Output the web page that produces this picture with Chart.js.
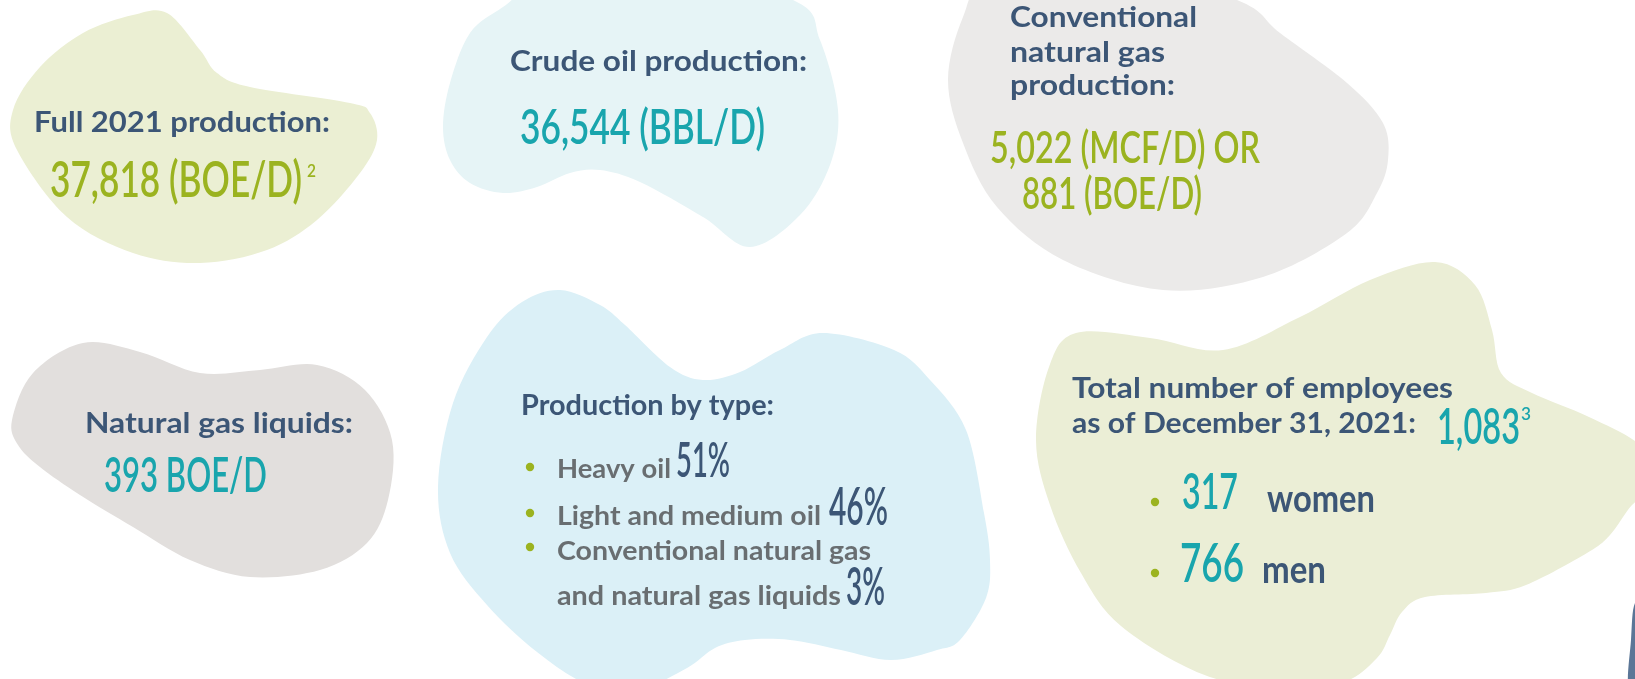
<!DOCTYPE html>
<html>
<head>
<meta charset="utf-8">
<script src="https://cdn.jsdelivr.net/npm/chart.js@4.4.1/dist/chart.umd.min.js"></script>
<style>
  html, body { margin: 0; padding: 0; background: #fff; }
  #wrap { width: 1635px; height: 679px; position: relative; }
</style>
</head>
<body>
<div id="wrap"><canvas id="chart-facts"></canvas></div>
<script>
const statTitles = ['Full 2021 production:', 'Crude oil production:', 'Conventional natural gas production:', 'Natural gas liquids:'];
const statValues = [37818, 36544, 5022, 393];
const statUnits = ['(BOE/D)', '(BBL/D)', '(MCF/D)', 'BOE/D'];
const gasBoe = 881;
const footnotes = ['2', '3'];

const typeTitle = 'Production by type:';
const typeLabels = ['Heavy oil', 'Light and medium oil', 'Conventional natural gas and natural gas liquids'];
const typeShares = [51, 46, 3];

const employeeTitle = 'Total number of employees as of December 31, 2021:';
const employeeTotal = 1083;
const employeeGroups = ['women', 'men'];
const employeeCounts = [317, 766];

const W = 1635, H = 679;
const HEAD = '#3c5676', GREEN = '#9bb320', TEAL = '#19a5ad', GRAY = '#696e71';

const fmt = (v) => v.toLocaleString('en-US');

// background shapes (page coordinates)
const blobs = [
    { color: '#ebefd3', pts: [[167,13],[200,50],[217,73],[250,87],[350,103],[370,113],[377,140],[360,173],[317,220],[267,250],[200,263],[133,253],[67,217],[17,150],[13,110],[40,67],[83,33],[133,15]] },
    { color: '#e6f4f6', pts: [[443,127],[450,83],[470,33],[503,7],[540,-15],[650,-40],[793,0],[820,40],[838,110],[830,165],[800,215],[750,247],[703,217],[640,182],[600,170],[570,173],[537,187],[503,193],[470,183],[450,160]] },
    { color: '#ebeae9', pts: [[948,80],[963,17],[990,-20],[1100,-40],[1237,0],[1280,33],[1347,83],[1383,123],[1388,160],[1377,193],[1347,233],[1263,277],[1163,290],[1063,260],[997,207],[963,143]] },
    { color: '#e2dfdd', pts: [[12,420],[33,373],[83,343],[140,352],[200,373],[260,370],[317,365],[365,390],[392,440],[388,500],[367,543],[320,570],[250,577],[190,560],[133,527],[80,495],[40,467],[18,445]] },
    { color: '#dbf0f7', pts: [[560,290],[600,305],[625,325],[670,367],[703,380],[740,372],[780,350],[823,333],[894,350],[930,380],[966,430],[984,513],[990,560],[986,598],[960,640],[937,650],[891,660],[841,650],[790,640],[745,640],[715,648],[687,668],[637,690],[587,684],[537,652],[487,605],[450,553],[438,487],[453,403],[487,337],[522,302]] },
    { color: '#ebeed6', pts: [[1049,367],[1076,333],[1150,338],[1223,350],[1300,317],[1370,280],[1435,262],[1475,285],[1492,330],[1501,373],[1532,393],[1589,417],[1640,445],[1660,480],[1632,505],[1610,535],[1587,553],[1526,585],[1486,593],[1425,597],[1402,612],[1390,635],[1377,658],[1344,682],[1283,690],[1202,674],[1121,626],[1081,573],[1050,505],[1036,440]] },
    { color: '#5b7697', pts: [[1635,603],[1631,640],[1629,690],[1650,690],[1650,600]] },
];

const bullets = [[530,467],[530,513],[530,547],[1155,502],[1155,573]];

const gasTitle = statTitles[2].split(' ');
const empTitle = employeeTitle.split(' ');
const mixLabel = typeLabels[2].split(' ');

// x, baseline, target width, font size
const texts = [
    { t: statTitles[0], x: 34, y: 132, w: 296, size: 28, kind: 'head' },
    { t: fmt(statValues[0]) + ' ' + statUnits[0], x: 50, y: 197, w: 252, size: 50, kind: 'hand', color: GREEN },
    { t: footnotes[0], x: 307, y: 177, w: 9, size: 17, kind: 'hand', color: GREEN },

    { t: statTitles[1], x: 510, y: 71, w: 297, size: 29, kind: 'head' },
    { t: fmt(statValues[1]) + ' ' + statUnits[1], x: 520, y: 144, w: 245, size: 48, kind: 'hand', color: TEAL },

    { t: gasTitle[0], x: 1010, y: 27, w: 187, size: 29, kind: 'head' },
    { t: gasTitle.slice(1, 3).join(' '), x: 1010, y: 62, w: 155, size: 29, kind: 'head' },
    { t: gasTitle[3], x: 1010, y: 95, w: 165, size: 29, kind: 'head' },
    { t: fmt(statValues[2]) + ' ' + statUnits[2] + ' OR', x: 990, y: 163, w: 270, size: 44, kind: 'hand', color: GREEN },
    { t: fmt(gasBoe) + ' ' + statUnits[0], x: 1022, y: 209, w: 180, size: 44, kind: 'hand', color: GREEN },

    { t: statTitles[3], x: 85, y: 433, w: 268, size: 28, kind: 'head' },
    { t: fmt(statValues[3]) + ' ' + statUnits[3], x: 104, y: 492, w: 163, size: 48, kind: 'hand', color: TEAL },

    { t: typeTitle, x: 521, y: 415, w: 253, size: 28, kind: 'head' },
    { t: typeLabels[0], x: 557, y: 478, w: 114, size: 26, kind: 'list' },
    { t: typeShares[0] + '%', x: 676, y: 477, w: 54, size: 48, kind: 'hand', color: HEAD },
    { t: typeLabels[1], x: 557, y: 525, w: 264, size: 26, kind: 'list' },
    { t: typeShares[1] + '%', x: 829, y: 525, w: 59, size: 52, kind: 'hand', color: HEAD },
    { t: mixLabel.slice(0, 3).join(' '), x: 557, y: 560, w: 314, size: 26, kind: 'list' },
    { t: mixLabel.slice(3).join(' '), x: 557, y: 605, w: 284, size: 26, kind: 'list' },
    { t: typeShares[2] + '%', x: 846, y: 605, w: 39, size: 52, kind: 'hand', color: HEAD },

    { t: empTitle.slice(0, 4).join(' '), x: 1072, y: 398, w: 381, size: 28, kind: 'head' },
    { t: empTitle.slice(4).join(' '), x: 1072, y: 433, w: 344, size: 28, kind: 'head' },
    { t: fmt(employeeTotal), x: 1437, y: 444, w: 83, size: 50, kind: 'hand', color: TEAL },
    { t: footnotes[1], x: 1521, y: 420, w: 10, size: 17, kind: 'hand', color: TEAL },
    { t: String(employeeCounts[0]), x: 1182, y: 509, w: 56, size: 50, kind: 'hand', color: TEAL },
    { t: employeeGroups[0], x: 1267, y: 512, w: 108, size: 38, kind: 'head' },
    { t: String(employeeCounts[1]), x: 1180, y: 582, w: 64, size: 53, kind: 'hand', color: TEAL },
    { t: employeeGroups[1], x: 1262, y: 583, w: 64, size: 38, kind: 'head' },
];

const kinds = {
    head: { weight: 'bold', family: 'Lato, "Noto Sans", sans-serif', color: HEAD },
    list: { weight: 'bold', family: 'Lato, "Noto Sans", sans-serif', color: GRAY },
    hand: { weight: '600', family: 'Lato, "Noto Sans", sans-serif', color: TEAL },
};

function blobPath(ctx, pts) {
    const n = pts.length;
    const t = 1 / 6;
    ctx.beginPath();
    ctx.moveTo(pts[0][0], pts[0][1]);
    for (let i = 0; i < n; i++) {
        const p0 = pts[(i - 1 + n) % n], p1 = pts[i], p2 = pts[(i + 1) % n], p3 = pts[(i + 2) % n];
        ctx.bezierCurveTo(
            p1[0] + (p2[0] - p0[0]) * t, p1[1] + (p2[1] - p0[1]) * t,
            p2[0] - (p3[0] - p1[0]) * t, p2[1] - (p3[1] - p1[1]) * t,
            p2[0], p2[1]
        );
    }
    ctx.closePath();
}

const infographic = {
    id: 'infographic',
    beforeDraw(chart) {
        const { ctx, scales: { x, y } } = chart;
        const px = (p) => [x.getPixelForValue(p[0]), y.getPixelForValue(p[1])];
        ctx.save();
        ctx.fillStyle = '#ffffff';
        ctx.fillRect(0, 0, chart.width, chart.height);
        blobs.forEach((b) => {
            blobPath(ctx, b.pts.map(px));
            ctx.fillStyle = b.color;
            ctx.fill();
        });
        ctx.fillStyle = GREEN;
        bullets.forEach((b) => {
            const [bx, by] = px(b);
            ctx.beginPath();
            ctx.arc(bx, by, 4.2, 0, Math.PI * 2);
            ctx.fill();
        });
        ctx.textBaseline = 'alphabetic';
        texts.forEach((item) => {
            const k = kinds[item.kind];
            ctx.font = `${k.weight} ${item.size}px ${k.family}`;
            const m = ctx.measureText(item.t).width;
            const sx = item.w ? item.w / m : 1;
            ctx.save();
            ctx.translate(x.getPixelForValue(item.x), y.getPixelForValue(item.y));
            ctx.scale(sx, 1);
            ctx.fillStyle = item.color || k.color;
            ctx.fillText(item.t, 0, 0);
            ctx.restore();
        });
        ctx.restore();
    },
};

const canvas = document.getElementById('chart-facts');
new Chart(canvas.getContext('2d'), {
    type: 'scatter',
    data: { datasets: [{ data: [], pointRadius: 0 }] },
    options: {
        responsive: true,
        maintainAspectRatio: false,
        animation: false,
        events: [],
        layout: { padding: 0 },
        plugins: { legend: { display: false }, tooltip: { enabled: false } },
        scales: {
            x: { type: 'linear', min: 0, max: W, display: false },
            y: { type: 'linear', min: 0, max: H, reverse: true, display: false },
        },
    },
    plugins: [infographic],
});
</script>
</body>
</html>
